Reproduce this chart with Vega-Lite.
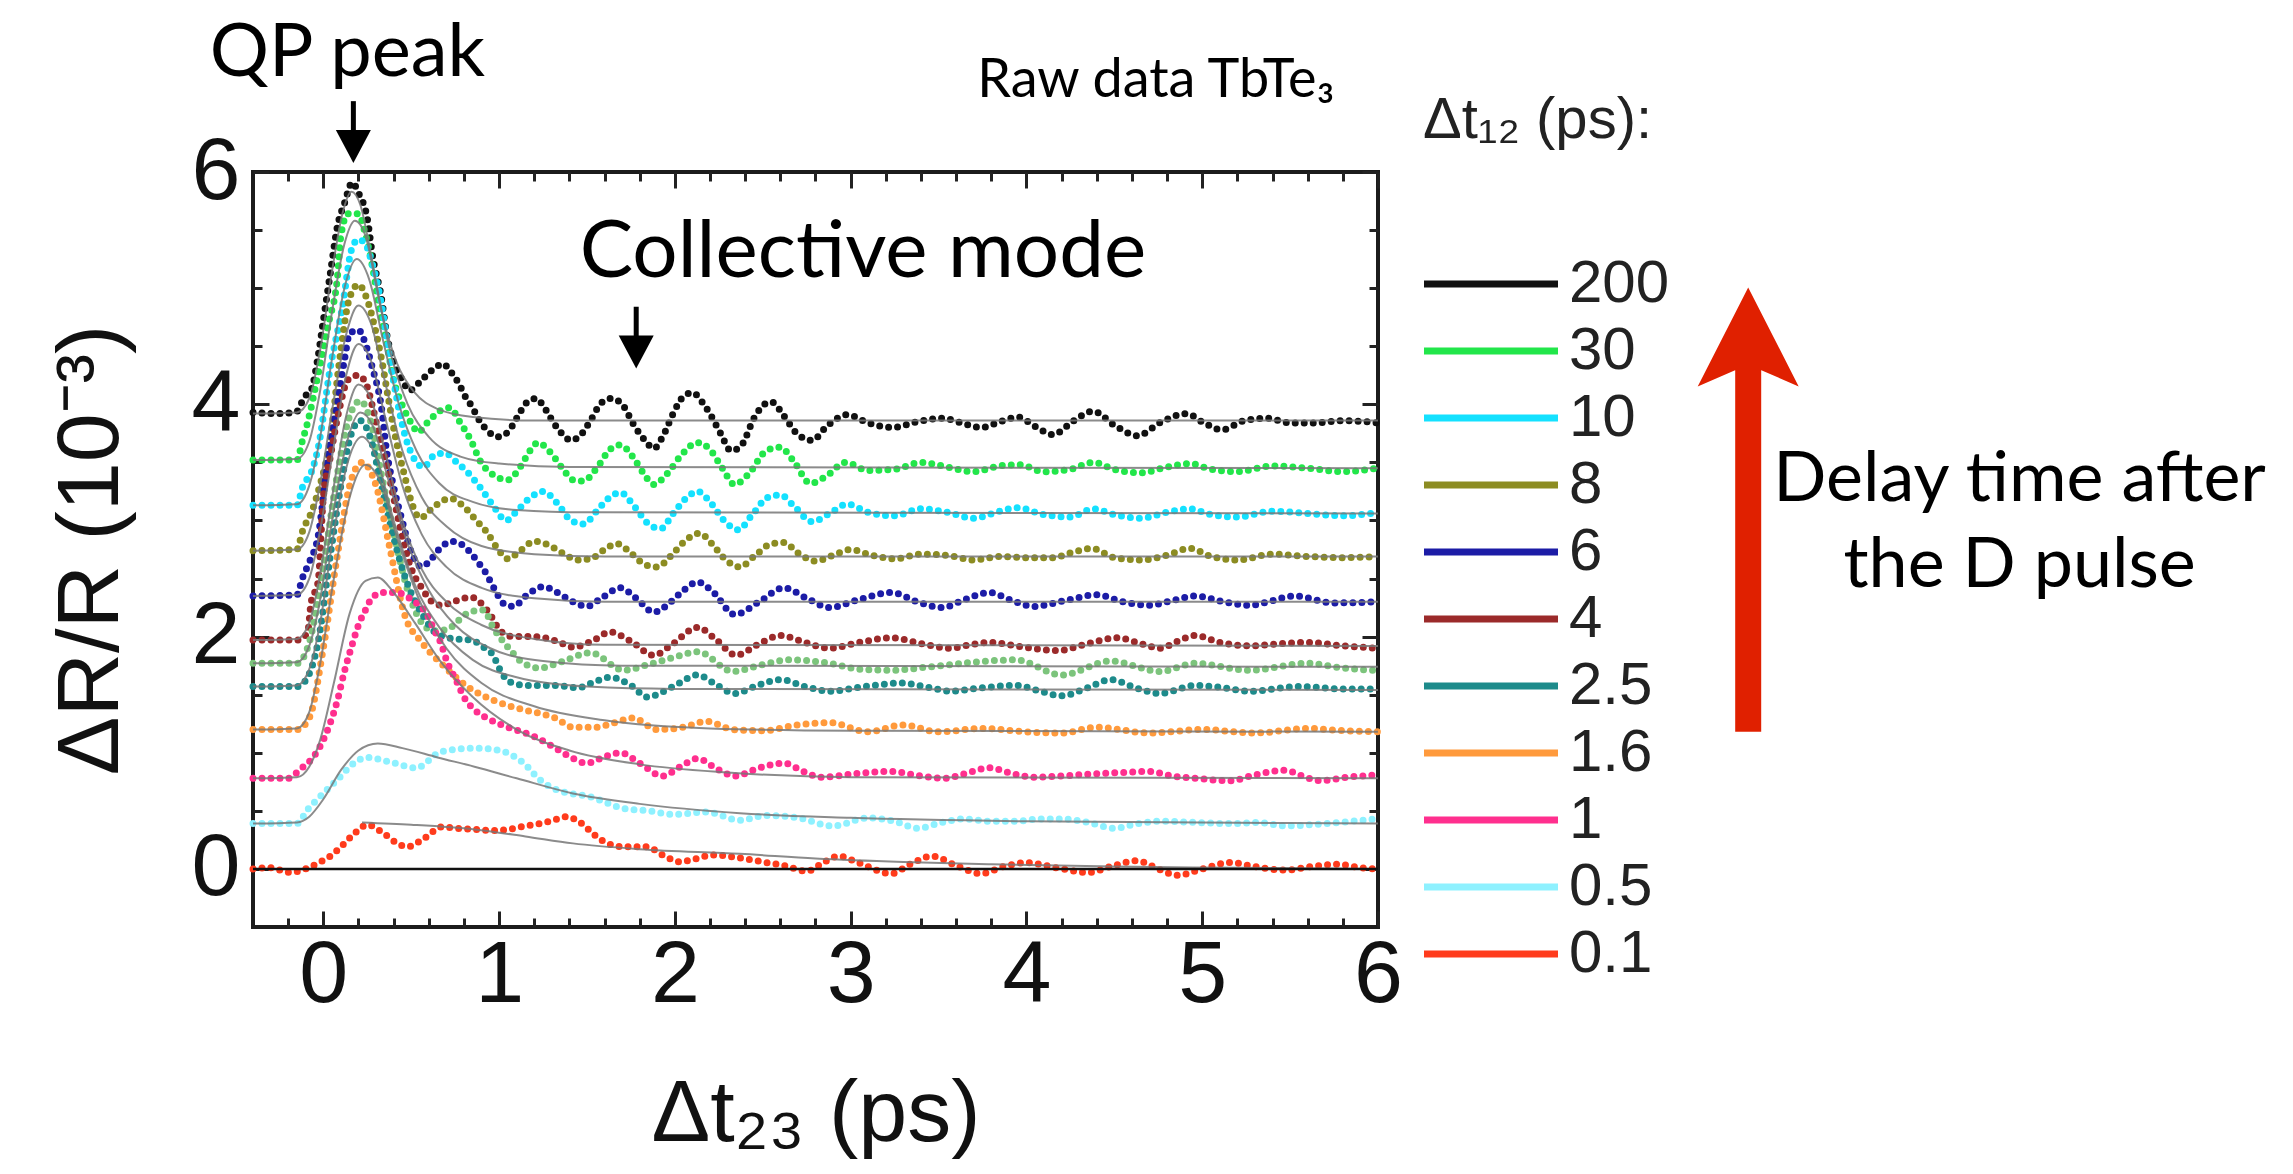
{
"$schema":"https://vega.github.io/schema/vega-lite/v6.json",
"width":1125,"height":755,
"autosize":{"type":"none"},
"padding":{"left":253,"top":172,"right":915,"bottom":247},
"background":"white",
"config":{
 "view":{"stroke":"#1c1c1c","strokeWidth":4},
 "axis":{"labelFont":"Liberation Sans","labelFontSize":88,"labelColor":"#111","titleFont":"Liberation Sans","titleFontSize":88,"titleFontWeight":"normal","titleColor":"#111","tickColor":"#222","tickWidth":3,"domain":false,"grid":false}
},
"datasets":{
"obs":[
{"k":"200","t":-0.4,"v":3.93},{"k":"200","t":-0.25,"v":3.92},{"k":"200","t":-0.15,"v":3.94},{"k":"200","t":-0.11,"v":4.06},{"k":"200","t":-0.07,"v":4.12},{"k":"200","t":-0.03,"v":4.41},{"k":"200","t":0,"v":4.72},{"k":"200","t":0.04,"v":5.13},{"k":"200","t":0.08,"v":5.53},{"k":"200","t":0.12,"v":5.73},{"k":"200","t":0.165,"v":5.91},{"k":"200","t":0.2,"v":5.82},{"k":"200","t":0.25,"v":5.6},{"k":"200","t":0.28,"v":5.28},{"k":"200","t":0.33,"v":4.92},{"k":"200","t":0.36,"v":4.61},{"k":"200","t":0.4,"v":4.36},{"k":"200","t":0.45,"v":4.21},{"k":"200","t":0.49,"v":4.12},{"k":"200","t":0.56,"v":4.21},{"k":"200","t":0.64,"v":4.32},{"k":"200","t":0.68,"v":4.35},{"k":"200","t":0.72,"v":4.29},{"k":"200","t":0.77,"v":4.18},{"k":"200","t":0.81,"v":4.06},{"k":"200","t":0.85,"v":3.97},{"k":"200","t":0.88,"v":3.88},{"k":"200","t":0.93,"v":3.78},{"k":"200","t":0.99,"v":3.72},{"k":"200","t":1.05,"v":3.76},{"k":"200","t":1.1,"v":3.88},{"k":"200","t":1.16,"v":4.02},{"k":"200","t":1.21,"v":4.05},{"k":"200","t":1.25,"v":3.99},{"k":"200","t":1.29,"v":3.89},{"k":"200","t":1.35,"v":3.76},{"k":"200","t":1.41,"v":3.69},{"k":"200","t":1.46,"v":3.73},{"k":"200","t":1.52,"v":3.86},{"k":"200","t":1.58,"v":4.01},{"k":"200","t":1.64,"v":4.05},{"k":"200","t":1.71,"v":3.98},{"k":"200","t":1.76,"v":3.84},{"k":"200","t":1.83,"v":3.69},{"k":"200","t":1.88,"v":3.62},{"k":"200","t":1.93,"v":3.72},{"k":"200","t":1.99,"v":3.92},{"k":"200","t":2.05,"v":4.07},{"k":"200","t":2.1,"v":4.1},{"k":"200","t":2.16,"v":4.01},{"k":"200","t":2.21,"v":3.89},{"k":"200","t":2.26,"v":3.75},{"k":"200","t":2.32,"v":3.6},{"k":"200","t":2.38,"v":3.65},{"k":"200","t":2.45,"v":3.88},{"k":"200","t":2.51,"v":4.0},{"k":"200","t":2.55,"v":4.02},{"k":"200","t":2.62,"v":3.9},{"k":"200","t":2.7,"v":3.74},{"k":"200","t":2.78,"v":3.69},{"k":"200","t":2.87,"v":3.82},{"k":"200","t":2.98,"v":3.91},{"k":"200","t":3.1,"v":3.84},{"k":"200","t":3.24,"v":3.8},{"k":"200","t":3.38,"v":3.85},{"k":"200","t":3.52,"v":3.88},{"k":"200","t":3.63,"v":3.84},{"k":"200","t":3.74,"v":3.8},{"k":"200","t":3.85,"v":3.85},{"k":"200","t":3.95,"v":3.89},{"k":"200","t":4.05,"v":3.81},{"k":"200","t":4.15,"v":3.74},{"k":"200","t":4.27,"v":3.86},{"k":"200","t":4.38,"v":3.94},{"k":"200","t":4.5,"v":3.82},{"k":"200","t":4.63,"v":3.73},{"k":"200","t":4.77,"v":3.85},{"k":"200","t":4.91,"v":3.92},{"k":"200","t":5.01,"v":3.84},{"k":"200","t":5.11,"v":3.78},{"k":"200","t":5.24,"v":3.86},{"k":"200","t":5.37,"v":3.88},{"k":"200","t":5.5,"v":3.84},{"k":"200","t":5.65,"v":3.84},{"k":"200","t":5.8,"v":3.86},{"k":"200","t":6.0,"v":3.84},
{"k":"30","t":-0.4,"v":3.52},{"k":"30","t":-0.15,"v":3.52},{"k":"30","t":-0.12,"v":3.68},{"k":"30","t":-0.09,"v":3.84},{"k":"30","t":-0.02,"v":4.33},{"k":"30","t":0.03,"v":4.7},{"k":"30","t":0.08,"v":5.09},{"k":"30","t":0.1,"v":5.45},{"k":"30","t":0.14,"v":5.64},{"k":"30","t":0.2,"v":5.64},{"k":"30","t":0.24,"v":5.46},{"k":"30","t":0.28,"v":5.18},{"k":"30","t":0.32,"v":4.82},{"k":"30","t":0.36,"v":4.53},{"k":"30","t":0.4,"v":4.21},{"k":"30","t":0.45,"v":3.99},{"k":"30","t":0.5,"v":3.84},{"k":"30","t":0.54,"v":3.76},{"k":"30","t":0.59,"v":3.84},{"k":"30","t":0.67,"v":3.95},{"k":"30","t":0.72,"v":3.97},{"k":"30","t":0.78,"v":3.84},{"k":"30","t":0.84,"v":3.69},{"k":"30","t":0.89,"v":3.52},{"k":"30","t":0.97,"v":3.39},{"k":"30","t":1.05,"v":3.35},{"k":"30","t":1.12,"v":3.46},{"k":"30","t":1.18,"v":3.61},{"k":"30","t":1.22,"v":3.67},{"k":"30","t":1.29,"v":3.59},{"k":"30","t":1.36,"v":3.45},{"k":"30","t":1.42,"v":3.35},{"k":"30","t":1.48,"v":3.34},{"k":"30","t":1.56,"v":3.46},{"k":"30","t":1.63,"v":3.61},{"k":"30","t":1.69,"v":3.65},{"k":"30","t":1.76,"v":3.55},{"k":"30","t":1.82,"v":3.41},{"k":"30","t":1.88,"v":3.31},{"k":"30","t":1.96,"v":3.41},{"k":"30","t":2.03,"v":3.55},{"k":"30","t":2.13,"v":3.67},{"k":"30","t":2.2,"v":3.61},{"k":"30","t":2.27,"v":3.45},{"k":"30","t":2.34,"v":3.31},{"k":"30","t":2.42,"v":3.4},{"k":"30","t":2.52,"v":3.6},{"k":"30","t":2.6,"v":3.63},{"k":"30","t":2.68,"v":3.5},{"k":"30","t":2.77,"v":3.32},{"k":"30","t":2.86,"v":3.38},{"k":"30","t":2.97,"v":3.5},{"k":"30","t":3.1,"v":3.43},{"k":"30","t":3.25,"v":3.44},{"k":"30","t":3.4,"v":3.5},{"k":"30","t":3.55,"v":3.46},{"k":"30","t":3.7,"v":3.42},{"k":"30","t":3.85,"v":3.47},{"k":"30","t":3.96,"v":3.48},{"k":"30","t":4.1,"v":3.42},{"k":"30","t":4.25,"v":3.44},{"k":"30","t":4.38,"v":3.5},{"k":"30","t":4.5,"v":3.44},{"k":"30","t":4.65,"v":3.41},{"k":"30","t":4.8,"v":3.46},{"k":"30","t":4.93,"v":3.49},{"k":"30","t":5.05,"v":3.44},{"k":"30","t":5.2,"v":3.42},{"k":"30","t":5.4,"v":3.47},{"k":"30","t":5.6,"v":3.45},{"k":"30","t":5.8,"v":3.42},{"k":"30","t":6.0,"v":3.45},
{"k":"10","t":-0.4,"v":3.13},{"k":"10","t":-0.15,"v":3.13},{"k":"10","t":-0.12,"v":3.28},{"k":"10","t":-0.06,"v":3.45},{"k":"10","t":-0.03,"v":3.62},{"k":"10","t":0.04,"v":4.32},{"k":"10","t":0.11,"v":4.85},{"k":"10","t":0.16,"v":5.33},{"k":"10","t":0.2,"v":5.42},{"k":"10","t":0.24,"v":5.38},{"k":"10","t":0.28,"v":5.2},{"k":"10","t":0.32,"v":4.95},{"k":"10","t":0.36,"v":4.58},{"k":"10","t":0.4,"v":4.2},{"k":"10","t":0.46,"v":3.76},{"k":"10","t":0.51,"v":3.55},{"k":"10","t":0.57,"v":3.46},{"k":"10","t":0.63,"v":3.56},{"k":"10","t":0.69,"v":3.58},{"k":"10","t":0.76,"v":3.5},{"k":"10","t":0.83,"v":3.4},{"k":"10","t":0.9,"v":3.27},{"k":"10","t":0.97,"v":3.12},{"k":"10","t":1.04,"v":3.0},{"k":"10","t":1.1,"v":3.08},{"k":"10","t":1.18,"v":3.2},{"k":"10","t":1.25,"v":3.25},{"k":"10","t":1.33,"v":3.15},{"k":"10","t":1.41,"v":3.0},{"k":"10","t":1.48,"v":2.97},{"k":"10","t":1.56,"v":3.09},{"k":"10","t":1.63,"v":3.2},{"k":"10","t":1.69,"v":3.24},{"k":"10","t":1.77,"v":3.12},{"k":"10","t":1.85,"v":2.97},{"k":"10","t":1.92,"v":2.93},{"k":"10","t":1.99,"v":3.06},{"k":"10","t":2.07,"v":3.2},{"k":"10","t":2.13,"v":3.25},{"k":"10","t":2.2,"v":3.16},{"k":"10","t":2.28,"v":3.0},{"k":"10","t":2.36,"v":2.92},{"k":"10","t":2.44,"v":3.05},{"k":"10","t":2.53,"v":3.2},{"k":"10","t":2.6,"v":3.22},{"k":"10","t":2.68,"v":3.12},{"k":"10","t":2.78,"v":2.99},{"k":"10","t":2.88,"v":3.06},{"k":"10","t":2.98,"v":3.14},{"k":"10","t":3.1,"v":3.07},{"k":"10","t":3.25,"v":3.04},{"k":"10","t":3.4,"v":3.1},{"k":"10","t":3.55,"v":3.07},{"k":"10","t":3.7,"v":3.02},{"k":"10","t":3.85,"v":3.08},{"k":"10","t":3.95,"v":3.11},{"k":"10","t":4.1,"v":3.05},{"k":"10","t":4.25,"v":3.03},{"k":"10","t":4.38,"v":3.1},{"k":"10","t":4.5,"v":3.05},{"k":"10","t":4.65,"v":3.02},{"k":"10","t":4.8,"v":3.07},{"k":"10","t":4.93,"v":3.1},{"k":"10","t":5.05,"v":3.05},{"k":"10","t":5.2,"v":3.03},{"k":"10","t":5.4,"v":3.08},{"k":"10","t":5.6,"v":3.06},{"k":"10","t":5.8,"v":3.04},{"k":"10","t":6.0,"v":3.07},
{"k":"8","t":-0.4,"v":2.74},{"k":"8","t":-0.15,"v":2.75},{"k":"8","t":-0.12,"v":2.9},{"k":"8","t":-0.06,"v":3.1},{"k":"8","t":-0.02,"v":3.3},{"k":"8","t":0.04,"v":3.7},{"k":"8","t":0.09,"v":4.35},{"k":"8","t":0.15,"v":4.92},{"k":"8","t":0.2,"v":5.03},{"k":"8","t":0.25,"v":4.9},{"k":"8","t":0.29,"v":4.68},{"k":"8","t":0.33,"v":4.4},{"k":"8","t":0.37,"v":4.05},{"k":"8","t":0.41,"v":3.72},{"k":"8","t":0.46,"v":3.4},{"k":"8","t":0.51,"v":3.12},{"k":"8","t":0.55,"v":3.02},{"k":"8","t":0.63,"v":3.12},{"k":"8","t":0.72,"v":3.19},{"k":"8","t":0.8,"v":3.12},{"k":"8","t":0.87,"v":3.0},{"k":"8","t":0.93,"v":2.9},{"k":"8","t":0.99,"v":2.76},{"k":"8","t":1.05,"v":2.67},{"k":"8","t":1.12,"v":2.74},{"k":"8","t":1.2,"v":2.82},{"k":"8","t":1.28,"v":2.79},{"k":"8","t":1.36,"v":2.72},{"k":"8","t":1.45,"v":2.66},{"k":"8","t":1.52,"v":2.67},{"k":"8","t":1.6,"v":2.75},{"k":"8","t":1.67,"v":2.8},{"k":"8","t":1.75,"v":2.72},{"k":"8","t":1.83,"v":2.62},{"k":"8","t":1.9,"v":2.6},{"k":"8","t":1.98,"v":2.7},{"k":"8","t":2.07,"v":2.84},{"k":"8","t":2.14,"v":2.89},{"k":"8","t":2.21,"v":2.8},{"k":"8","t":2.29,"v":2.66},{"k":"8","t":2.37,"v":2.6},{"k":"8","t":2.45,"v":2.69},{"k":"8","t":2.55,"v":2.8},{"k":"8","t":2.62,"v":2.81},{"k":"8","t":2.7,"v":2.72},{"k":"8","t":2.8,"v":2.65},{"k":"8","t":2.9,"v":2.7},{"k":"8","t":3.0,"v":2.75},{"k":"8","t":3.12,"v":2.7},{"k":"8","t":3.25,"v":2.67},{"k":"8","t":3.4,"v":2.71},{"k":"8","t":3.55,"v":2.7},{"k":"8","t":3.7,"v":2.66},{"k":"8","t":3.85,"v":2.69},{"k":"8","t":4.0,"v":2.68},{"k":"8","t":4.15,"v":2.68},{"k":"8","t":4.25,"v":2.72},{"k":"8","t":4.37,"v":2.76},{"k":"8","t":4.5,"v":2.68},{"k":"8","t":4.65,"v":2.66},{"k":"8","t":4.8,"v":2.7},{"k":"8","t":4.93,"v":2.76},{"k":"8","t":5.05,"v":2.69},{"k":"8","t":5.2,"v":2.66},{"k":"8","t":5.4,"v":2.71},{"k":"8","t":5.6,"v":2.69},{"k":"8","t":5.8,"v":2.68},{"k":"8","t":6.0,"v":2.69},
{"k":"6","t":-0.4,"v":2.35},{"k":"6","t":-0.15,"v":2.36},{"k":"6","t":-0.12,"v":2.5},{"k":"6","t":-0.08,"v":2.64},{"k":"6","t":-0.03,"v":2.86},{"k":"6","t":0.03,"v":3.59},{"k":"6","t":0.08,"v":4.01},{"k":"6","t":0.12,"v":4.38},{"k":"6","t":0.15,"v":4.61},{"k":"6","t":0.2,"v":4.64},{"k":"6","t":0.24,"v":4.52},{"k":"6","t":0.28,"v":4.31},{"k":"6","t":0.33,"v":3.98},{"k":"6","t":0.36,"v":3.6},{"k":"6","t":0.4,"v":3.29},{"k":"6","t":0.45,"v":2.99},{"k":"6","t":0.49,"v":2.77},{"k":"6","t":0.52,"v":2.66},{"k":"6","t":0.56,"v":2.6},{"k":"6","t":0.61,"v":2.66},{"k":"6","t":0.67,"v":2.77},{"k":"6","t":0.73,"v":2.82},{"k":"6","t":0.79,"v":2.79},{"k":"6","t":0.84,"v":2.72},{"k":"6","t":0.88,"v":2.64},{"k":"6","t":0.92,"v":2.56},{"k":"6","t":0.97,"v":2.42},{"k":"6","t":1.03,"v":2.28},{"k":"6","t":1.08,"v":2.26},{"k":"6","t":1.16,"v":2.36},{"k":"6","t":1.25,"v":2.43},{"k":"6","t":1.33,"v":2.38},{"k":"6","t":1.42,"v":2.3},{"k":"6","t":1.5,"v":2.26},{"k":"6","t":1.59,"v":2.34},{"k":"6","t":1.69,"v":2.42},{"k":"6","t":1.78,"v":2.33},{"k":"6","t":1.88,"v":2.21},{"k":"6","t":1.97,"v":2.29},{"k":"6","t":2.05,"v":2.4},{"k":"6","t":2.13,"v":2.47},{"k":"6","t":2.22,"v":2.38},{"k":"6","t":2.34,"v":2.19},{"k":"6","t":2.48,"v":2.3},{"k":"6","t":2.62,"v":2.42},{"k":"6","t":2.75,"v":2.33},{"k":"6","t":2.88,"v":2.25},{"k":"6","t":3.05,"v":2.32},{"k":"6","t":3.23,"v":2.38},{"k":"6","t":3.38,"v":2.3},{"k":"6","t":3.52,"v":2.25},{"k":"6","t":3.65,"v":2.32},{"k":"6","t":3.79,"v":2.38},{"k":"6","t":3.92,"v":2.31},{"k":"6","t":4.04,"v":2.26},{"k":"6","t":4.22,"v":2.31},{"k":"6","t":4.4,"v":2.36},{"k":"6","t":4.55,"v":2.3},{"k":"6","t":4.7,"v":2.27},{"k":"6","t":4.83,"v":2.31},{"k":"6","t":4.96,"v":2.35},{"k":"6","t":5.12,"v":2.3},{"k":"6","t":5.27,"v":2.27},{"k":"6","t":5.4,"v":2.31},{"k":"6","t":5.52,"v":2.35},{"k":"6","t":5.75,"v":2.29},{"k":"6","t":6.0,"v":2.3},
{"k":"4","t":-0.4,"v":1.97},{"k":"4","t":-0.15,"v":1.97},{"k":"4","t":-0.09,"v":2.03},{"k":"4","t":-0.07,"v":2.29},{"k":"4","t":-0.03,"v":2.47},{"k":"4","t":0.0,"v":3.2},{"k":"4","t":0.04,"v":3.55},{"k":"4","t":0.09,"v":3.95},{"k":"4","t":0.14,"v":4.21},{"k":"4","t":0.2,"v":4.25},{"k":"4","t":0.25,"v":4.15},{"k":"4","t":0.28,"v":3.98},{"k":"4","t":0.32,"v":3.72},{"k":"4","t":0.36,"v":3.48},{"k":"4","t":0.4,"v":3.2},{"k":"4","t":0.45,"v":2.85},{"k":"4","t":0.51,"v":2.55},{"k":"4","t":0.56,"v":2.42},{"k":"4","t":0.61,"v":2.31},{"k":"4","t":0.67,"v":2.27},{"k":"4","t":0.74,"v":2.3},{"k":"4","t":0.84,"v":2.34},{"k":"4","t":0.88,"v":2.31},{"k":"4","t":0.93,"v":2.23},{"k":"4","t":0.97,"v":2.14},{"k":"4","t":1.0,"v":2.06},{"k":"4","t":1.08,"v":2.0},{"k":"4","t":1.2,"v":2.0},{"k":"4","t":1.33,"v":1.96},{"k":"4","t":1.42,"v":1.91},{"k":"4","t":1.54,"v":1.97},{"k":"4","t":1.63,"v":2.04},{"k":"4","t":1.75,"v":1.96},{"k":"4","t":1.88,"v":1.84},{"k":"4","t":1.99,"v":1.94},{"k":"4","t":2.13,"v":2.08},{"k":"4","t":2.23,"v":1.98},{"k":"4","t":2.35,"v":1.84},{"k":"4","t":2.47,"v":1.93},{"k":"4","t":2.6,"v":2.01},{"k":"4","t":2.74,"v":1.95},{"k":"4","t":2.88,"v":1.9},{"k":"4","t":3.05,"v":1.95},{"k":"4","t":3.23,"v":1.99},{"k":"4","t":3.4,"v":1.94},{"k":"4","t":3.57,"v":1.9},{"k":"4","t":3.68,"v":1.93},{"k":"4","t":3.79,"v":1.95},{"k":"4","t":3.98,"v":1.91},{"k":"4","t":4.18,"v":1.88},{"k":"4","t":4.35,"v":1.94},{"k":"4","t":4.52,"v":1.99},{"k":"4","t":4.65,"v":1.94},{"k":"4","t":4.76,"v":1.9},{"k":"4","t":4.86,"v":1.96},{"k":"4","t":4.96,"v":2.01},{"k":"4","t":5.1,"v":1.95},{"k":"4","t":5.27,"v":1.92},{"k":"4","t":5.45,"v":1.94},{"k":"4","t":5.6,"v":1.95},{"k":"4","t":5.8,"v":1.92},{"k":"4","t":6.0,"v":1.9},
{"k":"x","t":-0.4,"v":1.77},{"k":"x","t":-0.15,"v":1.77},{"k":"x","t":-0.08,"v":1.95},{"k":"x","t":0.0,"v":2.6},{"k":"x","t":0.08,"v":3.4},{"k":"x","t":0.15,"v":3.9},{"k":"x","t":0.21,"v":4.03},{"k":"x","t":0.27,"v":3.85},{"k":"x","t":0.33,"v":3.4},{"k":"x","t":0.4,"v":2.9},{"k":"x","t":0.48,"v":2.4},{"k":"x","t":0.56,"v":2.12},{"k":"x","t":0.63,"v":2.05},{"k":"x","t":0.7,"v":2.06},{"k":"x","t":0.82,"v":2.2},{"k":"x","t":0.91,"v":2.23},{"k":"x","t":0.97,"v":2.07},{"k":"x","t":1.05,"v":1.91},{"k":"x","t":1.14,"v":1.77},{"k":"x","t":1.23,"v":1.73},{"k":"x","t":1.35,"v":1.78},{"k":"x","t":1.52,"v":1.86},{"k":"x","t":1.71,"v":1.71},{"k":"x","t":1.85,"v":1.76},{"k":"x","t":1.99,"v":1.82},{"k":"x","t":2.13,"v":1.87},{"k":"x","t":2.33,"v":1.7},{"k":"x","t":2.5,"v":1.76},{"k":"x","t":2.65,"v":1.8},{"k":"x","t":2.88,"v":1.77},{"k":"x","t":3.05,"v":1.72},{"k":"x","t":3.23,"v":1.71},{"k":"x","t":3.45,"v":1.74},{"k":"x","t":3.7,"v":1.78},{"k":"x","t":3.94,"v":1.8},{"k":"x","t":4.2,"v":1.67},{"k":"x","t":4.48,"v":1.79},{"k":"x","t":4.76,"v":1.7},{"k":"x","t":4.96,"v":1.77},{"k":"x","t":5.27,"v":1.71},{"k":"x","t":5.6,"v":1.77},{"k":"x","t":5.8,"v":1.73},{"k":"x","t":5.98,"v":1.71},
{"k":"2.5","t":-0.4,"v":1.57},{"k":"2.5","t":-0.15,"v":1.57},{"k":"2.5","t":-0.09,"v":1.65},{"k":"2.5","t":-0.03,"v":1.95},{"k":"2.5","t":0.04,"v":2.7},{"k":"2.5","t":0.1,"v":3.3},{"k":"2.5","t":0.16,"v":3.75},{"k":"2.5","t":0.21,"v":3.86},{"k":"2.5","t":0.27,"v":3.7},{"k":"2.5","t":0.33,"v":3.3},{"k":"2.5","t":0.4,"v":2.85},{"k":"2.5","t":0.48,"v":2.45},{"k":"2.5","t":0.56,"v":2.2},{"k":"2.5","t":0.65,"v":2.02},{"k":"2.5","t":0.75,"v":1.98},{"k":"2.5","t":0.84,"v":1.97},{"k":"2.5","t":0.91,"v":1.91},{"k":"2.5","t":0.97,"v":1.83},{"k":"2.5","t":1.0,"v":1.73},{"k":"2.5","t":1.06,"v":1.61},{"k":"2.5","t":1.16,"v":1.58},{"k":"2.5","t":1.31,"v":1.58},{"k":"2.5","t":1.45,"v":1.56},{"k":"2.5","t":1.54,"v":1.61},{"k":"2.5","t":1.63,"v":1.65},{"k":"2.5","t":1.76,"v":1.57},{"k":"2.5","t":1.84,"v":1.48},{"k":"2.5","t":1.99,"v":1.57},{"k":"2.5","t":2.13,"v":1.67},{"k":"2.5","t":2.22,"v":1.6},{"k":"2.5","t":2.34,"v":1.51},{"k":"2.5","t":2.47,"v":1.58},{"k":"2.5","t":2.6,"v":1.63},{"k":"2.5","t":2.74,"v":1.57},{"k":"2.5","t":2.88,"v":1.53},{"k":"2.5","t":3.08,"v":1.57},{"k":"2.5","t":3.29,"v":1.6},{"k":"2.5","t":3.45,"v":1.56},{"k":"2.5","t":3.57,"v":1.53},{"k":"2.5","t":3.75,"v":1.56},{"k":"2.5","t":3.94,"v":1.58},{"k":"2.5","t":4.08,"v":1.53},{"k":"2.5","t":4.2,"v":1.49},{"k":"2.5","t":4.35,"v":1.56},{"k":"2.5","t":4.48,"v":1.63},{"k":"2.5","t":4.62,"v":1.56},{"k":"2.5","t":4.76,"v":1.51},{"k":"2.5","t":4.96,"v":1.58},{"k":"2.5","t":5.12,"v":1.56},{"k":"2.5","t":5.27,"v":1.53},{"k":"2.5","t":5.55,"v":1.57},{"k":"2.5","t":5.8,"v":1.55},{"k":"2.5","t":5.98,"v":1.55},
{"k":"1.6","t":-0.4,"v":1.2},{"k":"1.6","t":-0.15,"v":1.2},{"k":"1.6","t":-0.08,"v":1.3},{"k":"1.6","t":0.0,"v":1.9},{"k":"1.6","t":0.08,"v":2.7},{"k":"1.6","t":0.15,"v":3.3},{"k":"1.6","t":0.22,"v":3.5},{"k":"1.6","t":0.3,"v":3.3},{"k":"1.6","t":0.38,"v":2.75},{"k":"1.6","t":0.46,"v":2.2},{"k":"1.6","t":0.56,"v":1.95},{"k":"1.6","t":0.67,"v":1.77},{"k":"1.6","t":0.82,"v":1.57},{"k":"1.6","t":0.97,"v":1.45},{"k":"1.6","t":1.14,"v":1.37},{"k":"1.6","t":1.23,"v":1.34},{"k":"1.6","t":1.32,"v":1.3},{"k":"1.6","t":1.42,"v":1.22},{"k":"1.6","t":1.55,"v":1.22},{"k":"1.6","t":1.66,"v":1.26},{"k":"1.6","t":1.76,"v":1.3},{"k":"1.6","t":1.9,"v":1.2},{"k":"1.6","t":2.05,"v":1.22},{"k":"1.6","t":2.18,"v":1.27},{"k":"1.6","t":2.33,"v":1.2},{"k":"1.6","t":2.5,"v":1.19},{"k":"1.6","t":2.7,"v":1.24},{"k":"1.6","t":2.88,"v":1.26},{"k":"1.6","t":3.1,"v":1.18},{"k":"1.6","t":3.3,"v":1.24},{"k":"1.6","t":3.5,"v":1.18},{"k":"1.6","t":3.75,"v":1.21},{"k":"1.6","t":4.0,"v":1.18},{"k":"1.6","t":4.2,"v":1.17},{"k":"1.6","t":4.4,"v":1.22},{"k":"1.6","t":4.7,"v":1.17},{"k":"1.6","t":5.0,"v":1.2},{"k":"1.6","t":5.3,"v":1.17},{"k":"1.6","t":5.6,"v":1.21},{"k":"1.6","t":5.8,"v":1.19},{"k":"1.6","t":6.0,"v":1.18},
{"k":"1","t":-0.4,"v":0.78},{"k":"1","t":-0.2,"v":0.78},{"k":"1","t":-0.13,"v":0.86},{"k":"1","t":-0.07,"v":0.94},{"k":"1","t":-0.04,"v":1.0},{"k":"1","t":0.04,"v":1.26},{"k":"1","t":0.08,"v":1.45},{"k":"1","t":0.12,"v":1.7},{"k":"1","t":0.16,"v":1.91},{"k":"1","t":0.2,"v":2.1},{"k":"1","t":0.24,"v":2.23},{"k":"1","t":0.28,"v":2.34},{"k":"1","t":0.34,"v":2.38},{"k":"1","t":0.42,"v":2.38},{"k":"1","t":0.48,"v":2.34},{"k":"1","t":0.53,"v":2.29},{"k":"1","t":0.59,"v":2.19},{"k":"1","t":0.63,"v":2.06},{"k":"1","t":0.67,"v":1.94},{"k":"1","t":0.7,"v":1.8},{"k":"1","t":0.76,"v":1.61},{"k":"1","t":0.8,"v":1.48},{"k":"1","t":0.86,"v":1.37},{"k":"1","t":0.93,"v":1.3},{"k":"1","t":1.05,"v":1.22},{"k":"1","t":1.2,"v":1.14},{"k":"1","t":1.31,"v":1.05},{"k":"1","t":1.41,"v":0.96},{"k":"1","t":1.5,"v":0.91},{"k":"1","t":1.59,"v":0.96},{"k":"1","t":1.69,"v":1.0},{"k":"1","t":1.8,"v":0.91},{"k":"1","t":1.93,"v":0.8},{"k":"1","t":2.03,"v":0.88},{"k":"1","t":2.13,"v":0.95},{"k":"1","t":2.24,"v":0.86},{"k":"1","t":2.34,"v":0.8},{"k":"1","t":2.48,"v":0.87},{"k":"1","t":2.62,"v":0.91},{"k":"1","t":2.73,"v":0.84},{"k":"1","t":2.83,"v":0.79},{"k":"1","t":3.03,"v":0.82},{"k":"1","t":3.23,"v":0.84},{"k":"1","t":3.4,"v":0.8},{"k":"1","t":3.54,"v":0.78},{"k":"1","t":3.65,"v":0.82},{"k":"1","t":3.79,"v":0.87},{"k":"1","t":3.92,"v":0.82},{"k":"1","t":4.04,"v":0.79},{"k":"1","t":4.2,"v":0.8},{"k":"1","t":4.4,"v":0.82},{"k":"1","t":4.55,"v":0.83},{"k":"1","t":4.7,"v":0.84},{"k":"1","t":4.83,"v":0.8},{"k":"1","t":4.96,"v":0.78},{"k":"1","t":5.16,"v":0.76},{"k":"1","t":5.3,"v":0.81},{"k":"1","t":5.47,"v":0.85},{"k":"1","t":5.57,"v":0.8},{"k":"1","t":5.67,"v":0.76},{"k":"1","t":5.83,"v":0.79},{"k":"1","t":6.0,"v":0.81},
{"k":"0.5","t":-0.4,"v":0.39},{"k":"0.5","t":-0.15,"v":0.39},{"k":"0.5","t":-0.09,"v":0.51},{"k":"0.5","t":-0.02,"v":0.62},{"k":"0.5","t":0.04,"v":0.71},{"k":"0.5","t":0.1,"v":0.8},{"k":"0.5","t":0.15,"v":0.88},{"k":"0.5","t":0.25,"v":0.96},{"k":"0.5","t":0.38,"v":0.92},{"k":"0.5","t":0.53,"v":0.87},{"k":"0.5","t":0.67,"v":1.01},{"k":"0.5","t":0.86,"v":1.04},{"k":"0.5","t":1.0,"v":1.02},{"k":"0.5","t":1.14,"v":0.91},{"k":"0.5","t":1.23,"v":0.77},{"k":"0.5","t":1.33,"v":0.68},{"k":"0.5","t":1.52,"v":0.62},{"k":"0.5","t":1.71,"v":0.52},{"k":"0.5","t":1.85,"v":0.5},{"k":"0.5","t":1.99,"v":0.47},{"k":"0.5","t":2.18,"v":0.49},{"k":"0.5","t":2.37,"v":0.42},{"k":"0.5","t":2.52,"v":0.46},{"k":"0.5","t":2.7,"v":0.44},{"k":"0.5","t":2.9,"v":0.37},{"k":"0.5","t":3.1,"v":0.44},{"k":"0.5","t":3.25,"v":0.41},{"k":"0.5","t":3.38,"v":0.35},{"k":"0.5","t":3.52,"v":0.4},{"k":"0.5","t":3.64,"v":0.43},{"k":"0.5","t":3.8,"v":0.41},{"k":"0.5","t":3.94,"v":0.41},{"k":"0.5","t":4.07,"v":0.43},{"k":"0.5","t":4.2,"v":0.43},{"k":"0.5","t":4.35,"v":0.4},{"k":"0.5","t":4.5,"v":0.35},{"k":"0.5","t":4.63,"v":0.39},{"k":"0.5","t":4.76,"v":0.41},{"k":"0.5","t":4.96,"v":0.4},{"k":"0.5","t":5.16,"v":0.39},{"k":"0.5","t":5.32,"v":0.4},{"k":"0.5","t":5.47,"v":0.37},{"k":"0.5","t":5.7,"v":0.39},{"k":"0.5","t":5.98,"v":0.43},
{"k":"0.1","t":-0.4,"v":0.0},{"k":"0.1","t":-0.3,"v":0.01},{"k":"0.1","t":-0.19,"v":-0.03},{"k":"0.1","t":-0.1,"v":0.0},{"k":"0.1","t":-0.03,"v":0.05},{"k":"0.1","t":0.03,"v":0.1},{"k":"0.1","t":0.1,"v":0.19},{"k":"0.1","t":0.18,"v":0.31},{"k":"0.1","t":0.25,"v":0.38},{"k":"0.1","t":0.34,"v":0.31},{"k":"0.1","t":0.42,"v":0.22},{"k":"0.1","t":0.48,"v":0.19},{"k":"0.1","t":0.54,"v":0.23},{"k":"0.1","t":0.59,"v":0.28},{"k":"0.1","t":0.67,"v":0.36},{"k":"0.1","t":0.76,"v":0.35},{"k":"0.1","t":0.86,"v":0.34},{"k":"0.1","t":0.96,"v":0.33},{"k":"0.1","t":1.05,"v":0.34},{"k":"0.1","t":1.15,"v":0.37},{"k":"0.1","t":1.23,"v":0.39},{"k":"0.1","t":1.31,"v":0.42},{"k":"0.1","t":1.39,"v":0.45},{"k":"0.1","t":1.44,"v":0.42},{"k":"0.1","t":1.48,"v":0.38},{"k":"0.1","t":1.53,"v":0.31},{"k":"0.1","t":1.58,"v":0.25},{"k":"0.1","t":1.71,"v":0.19},{"k":"0.1","t":1.84,"v":0.19},{"k":"0.1","t":1.93,"v":0.12},{"k":"0.1","t":2.03,"v":0.06},{"k":"0.1","t":2.1,"v":0.08},{"k":"0.1","t":2.22,"v":0.12},{"k":"0.1","t":2.35,"v":0.1},{"k":"0.1","t":2.52,"v":0.055},{"k":"0.1","t":2.62,"v":0.03},{"k":"0.1","t":2.75,"v":-0.02},{"k":"0.1","t":2.85,"v":0.06},{"k":"0.1","t":2.93,"v":0.11},{"k":"0.1","t":3.05,"v":0.05},{"k":"0.1","t":3.23,"v":-0.04},{"k":"0.1","t":3.35,"v":0.05},{"k":"0.1","t":3.46,"v":0.11},{"k":"0.1","t":3.6,"v":0.03},{"k":"0.1","t":3.74,"v":-0.04},{"k":"0.1","t":3.87,"v":0.02},{"k":"0.1","t":4.0,"v":0.055},{"k":"0.1","t":4.17,"v":0.01},{"k":"0.1","t":4.35,"v":-0.03},{"k":"0.1","t":4.5,"v":0.03},{"k":"0.1","t":4.63,"v":0.07},{"k":"0.1","t":4.75,"v":0.0},{"k":"0.1","t":4.86,"v":-0.055},{"k":"0.1","t":5.0,"v":0.0},{"k":"0.1","t":5.16,"v":0.055},{"k":"0.1","t":5.3,"v":0.02},{"k":"0.1","t":5.47,"v":-0.01},{"k":"0.1","t":5.62,"v":0.02},{"k":"0.1","t":5.77,"v":0.04},{"k":"0.1","t":5.9,"v":0.01},{"k":"0.1","t":6.0,"v":0.0}
],
"fit":[
{"k":"200","t":-0.4,"v":3.92},{"k":"200","t":-0.15,"v":3.93},{"k":"200","t":-0.08,"v":4.05},{"k":"200","t":-0.02,"v":4.45},{"k":"200","t":0.05,"v":5.15},{"k":"200","t":0.11,"v":5.65},{"k":"200","t":0.16,"v":5.83},{"k":"200","t":0.21,"v":5.72},{"k":"200","t":0.27,"v":5.3},{"k":"200","t":0.34,"v":4.75},{"k":"200","t":0.42,"v":4.35},{"k":"200","t":0.52,"v":4.1},{"k":"200","t":0.65,"v":3.96},{"k":"200","t":0.85,"v":3.89},{"k":"200","t":1.2,"v":3.86},{"k":"200","t":6.0,"v":3.86},
{"k":"30","t":-0.4,"v":3.52},{"k":"30","t":-0.15,"v":3.53},{"k":"30","t":-0.08,"v":3.68},{"k":"30","t":-0.02,"v":4.1},{"k":"30","t":0.05,"v":4.8},{"k":"30","t":0.12,"v":5.38},{"k":"30","t":0.18,"v":5.58},{"k":"30","t":0.24,"v":5.45},{"k":"30","t":0.31,"v":4.95},{"k":"30","t":0.39,"v":4.4},{"k":"30","t":0.48,"v":4.0},{"k":"30","t":0.6,"v":3.72},{"k":"30","t":0.78,"v":3.55},{"k":"30","t":1.0,"v":3.49},{"k":"30","t":1.4,"v":3.46},{"k":"30","t":6.0,"v":3.45},
{"k":"10","t":-0.4,"v":3.13},{"k":"10","t":-0.15,"v":3.14},{"k":"10","t":-0.08,"v":3.3},{"k":"10","t":-0.02,"v":3.7},{"k":"10","t":0.05,"v":4.4},{"k":"10","t":0.12,"v":5.0},{"k":"10","t":0.19,"v":5.25},{"k":"10","t":0.26,"v":5.08},{"k":"10","t":0.34,"v":4.55},{"k":"10","t":0.43,"v":4.0},{"k":"10","t":0.53,"v":3.6},{"k":"10","t":0.66,"v":3.32},{"k":"10","t":0.85,"v":3.16},{"k":"10","t":1.1,"v":3.09},{"k":"10","t":1.5,"v":3.07},{"k":"10","t":6.0,"v":3.06},
{"k":"8","t":-0.4,"v":2.74},{"k":"8","t":-0.15,"v":2.75},{"k":"8","t":-0.08,"v":2.9},{"k":"8","t":-0.02,"v":3.3},{"k":"8","t":0.05,"v":3.95},{"k":"8","t":0.13,"v":4.6},{"k":"8","t":0.2,"v":4.85},{"k":"8","t":0.27,"v":4.7},{"k":"8","t":0.35,"v":4.2},{"k":"8","t":0.45,"v":3.6},{"k":"8","t":0.56,"v":3.2},{"k":"8","t":0.7,"v":2.95},{"k":"8","t":0.9,"v":2.78},{"k":"8","t":1.2,"v":2.71},{"k":"8","t":1.6,"v":2.69},{"k":"8","t":6.0,"v":2.69},
{"k":"6","t":-0.4,"v":2.35},{"k":"6","t":-0.15,"v":2.36},{"k":"6","t":-0.08,"v":2.5},{"k":"6","t":-0.02,"v":2.9},{"k":"6","t":0.05,"v":3.55},{"k":"6","t":0.13,"v":4.25},{"k":"6","t":0.2,"v":4.52},{"k":"6","t":0.27,"v":4.38},{"k":"6","t":0.35,"v":3.9},{"k":"6","t":0.45,"v":3.3},{"k":"6","t":0.56,"v":2.88},{"k":"6","t":0.7,"v":2.6},{"k":"6","t":0.9,"v":2.42},{"k":"6","t":1.2,"v":2.33},{"k":"6","t":1.6,"v":2.3},{"k":"6","t":6.0,"v":2.3},
{"k":"4","t":-0.4,"v":1.97},{"k":"4","t":-0.15,"v":1.98},{"k":"4","t":-0.08,"v":2.12},{"k":"4","t":-0.02,"v":2.52},{"k":"4","t":0.05,"v":3.2},{"k":"4","t":0.13,"v":3.9},{"k":"4","t":0.2,"v":4.17},{"k":"4","t":0.27,"v":4.05},{"k":"4","t":0.35,"v":3.6},{"k":"4","t":0.45,"v":3.0},{"k":"4","t":0.56,"v":2.58},{"k":"4","t":0.7,"v":2.3},{"k":"4","t":0.9,"v":2.1},{"k":"4","t":1.2,"v":1.98},{"k":"4","t":1.6,"v":1.93},{"k":"4","t":6.0,"v":1.92},
{"k":"x","t":-0.4,"v":1.77},{"k":"x","t":-0.15,"v":1.78},{"k":"x","t":-0.08,"v":1.92},{"k":"x","t":-0.02,"v":2.3},{"k":"x","t":0.05,"v":3.0},{"k":"x","t":0.13,"v":3.65},{"k":"x","t":0.21,"v":3.93},{"k":"x","t":0.28,"v":3.82},{"k":"x","t":0.37,"v":3.35},{"k":"x","t":0.48,"v":2.8},{"k":"x","t":0.6,"v":2.4},{"k":"x","t":0.75,"v":2.1},{"k":"x","t":0.95,"v":1.9},{"k":"x","t":1.25,"v":1.79},{"k":"x","t":1.7,"v":1.75},{"k":"x","t":6.0,"v":1.74},
{"k":"2.5","t":-0.4,"v":1.57},{"k":"2.5","t":-0.15,"v":1.58},{"k":"2.5","t":-0.08,"v":1.72},{"k":"2.5","t":-0.02,"v":2.1},{"k":"2.5","t":0.05,"v":2.8},{"k":"2.5","t":0.13,"v":3.45},{"k":"2.5","t":0.22,"v":3.72},{"k":"2.5","t":0.3,"v":3.55},{"k":"2.5","t":0.4,"v":3.0},{"k":"2.5","t":0.52,"v":2.45},{"k":"2.5","t":0.66,"v":2.08},{"k":"2.5","t":0.85,"v":1.8},{"k":"2.5","t":1.1,"v":1.65},{"k":"2.5","t":1.5,"v":1.57},{"k":"2.5","t":2.0,"v":1.55},{"k":"2.5","t":6.0,"v":1.54},
{"k":"1.6","t":-0.4,"v":1.2},{"k":"1.6","t":-0.15,"v":1.21},{"k":"1.6","t":-0.08,"v":1.35},{"k":"1.6","t":-0.02,"v":1.75},{"k":"1.6","t":0.06,"v":2.5},{"k":"1.6","t":0.15,"v":3.2},{"k":"1.6","t":0.24,"v":3.48},{"k":"1.6","t":0.32,"v":3.35},{"k":"1.6","t":0.42,"v":2.85},{"k":"1.6","t":0.55,"v":2.3},{"k":"1.6","t":0.7,"v":1.9},{"k":"1.6","t":0.9,"v":1.6},{"k":"1.6","t":1.2,"v":1.4},{"k":"1.6","t":1.6,"v":1.28},{"k":"1.6","t":2.2,"v":1.21},{"k":"1.6","t":3.0,"v":1.19},{"k":"1.6","t":6.0,"v":1.18},
{"k":"1","t":-0.4,"v":0.78},{"k":"1","t":-0.15,"v":0.79},{"k":"1","t":-0.08,"v":0.88},{"k":"1","t":-0.02,"v":1.1},{"k":"1","t":0.06,"v":1.6},{"k":"1","t":0.15,"v":2.2},{"k":"1","t":0.24,"v":2.48},{"k":"1","t":0.31,"v":2.51},{"k":"1","t":0.4,"v":2.38},{"k":"1","t":0.52,"v":2.12},{"k":"1","t":0.66,"v":1.8},{"k":"1","t":0.85,"v":1.48},{"k":"1","t":1.1,"v":1.2},{"k":"1","t":1.4,"v":1.02},{"k":"1","t":1.8,"v":0.9},{"k":"1","t":2.3,"v":0.83},{"k":"1","t":3.0,"v":0.79},{"k":"1","t":6.0,"v":0.78},
{"k":"0.5","t":-0.4,"v":0.39},{"k":"0.5","t":-0.15,"v":0.4},{"k":"0.5","t":-0.08,"v":0.45},{"k":"0.5","t":0.0,"v":0.6},{"k":"0.5","t":0.1,"v":0.85},{"k":"0.5","t":0.2,"v":1.02},{"k":"0.5","t":0.31,"v":1.08},{"k":"0.5","t":0.45,"v":1.04},{"k":"0.5","t":0.65,"v":0.96},{"k":"0.5","t":0.86,"v":0.88},{"k":"0.5","t":1.1,"v":0.78},{"k":"0.5","t":1.42,"v":0.65},{"k":"0.5","t":1.8,"v":0.56},{"k":"0.5","t":2.37,"v":0.48},{"k":"0.5","t":3.0,"v":0.44},{"k":"0.5","t":4.0,"v":0.41},{"k":"0.5","t":5.0,"v":0.4},{"k":"0.5","t":6.0,"v":0.39},
{"k":"0.1","t":0.22,"v":0.4},{"k":"0.1","t":0.5,"v":0.38},{"k":"0.1","t":0.86,"v":0.34},{"k":"0.1","t":1.15,"v":0.28},{"k":"0.1","t":1.42,"v":0.22},{"k":"0.1","t":1.8,"v":0.17},{"k":"0.1","t":2.37,"v":0.13},{"k":"0.1","t":2.8,"v":0.09},{"k":"0.1","t":3.3,"v":0.06},{"k":"0.1","t":3.8,"v":0.04},{"k":"0.1","t":4.5,"v":0.02},{"k":"0.1","t":5.2,"v":0.01},{"k":"0.1","t":6.0,"v":0.0}
]
},
"resolve":{"axis":{"x":"independent","y":"independent"}},
"layer":[
{
 "data":{"name":"obs"},
 "mark":{"type":"line","interpolate":"monotone","strokeDash":[0,9],"strokeCap":"round"},
 "encoding":{
  "x":{"field":"t","type":"quantitative","scale":{"domain":[-0.4,6],"nice":false,"zero":false},
   "axis":{"orient":"bottom","values":[-0.2,0,0.2,0.4,0.6,0.8,1,1.2,1.4,1.6,1.8,2,2.2,2.4,2.6,2.8,3,3.2,3.4,3.6,3.8,4,4.2,4.4,4.6,4.8,5,5.2,5.4,5.6,5.8,6],
    "tickSize":{"condition":{"test":"abs(datum.value-round(datum.value))<0.01","value":-16},"value":-9},
    "labelExpr":"abs(datum.value-round(datum.value))<0.01 ? format(datum.value,'d') : ''",
    "labelPadding":20,"labelFlush":false,"labelOverlap":false,"title":"Δt₂₃ (ps)","titlePadding":44}},
  "y":{"field":"v","type":"quantitative","scale":{"domain":[-0.5,6],"nice":false,"zero":false},
   "axis":{"orient":"left","values":[0,0.5,1,1.5,2,2.5,3,3.5,4,4.5,5,5.5,6],
    "tickSize":{"condition":{"test":"abs(datum.value/2-round(datum.value/2))<0.01","value":-16},"value":-9},
    "labelExpr":"abs(datum.value/2-round(datum.value/2))<0.01 ? format(datum.value,'d') : ''",
    "labelPadding":29,"labelFlush":false,"labelOverlap":false,"title":"ΔR/R (10⁻³)","titlePadding":56}},
  "color":{"field":"k","type":"nominal",
   "scale":{"domain":["200","30","10","8","6","4","2.5","1.6","1","0.5","0.1","x"],
    "range":["#111111","#22e64a","#14e1ff","#8c8c22","#1c1ca6","#9b2a2a","#1d8b8b","#ff9a3c","#ff2f8e","#8ef1ff","#ff3b1c","#7cc47c"]},
   "legend":{"orient":"none","legendX":1170,"legendY":-80,"values":["200","30","10","8","6","4","2.5","1.6","1","0.5","0.1"],
    "title":"Δt₁₂ (ps):","titleLimit":2000,"labelLimit":2000,"symbolType":"M-2,0 L2,0","symbolSize":4489,"symbolStrokeWidth":5,"symbolDash":[1,0],"symbolOpacity":1,"symbolOffset":31,"symbolFillColor":"transparent",
    "labelFont":"Liberation Sans","labelFontSize":60,"labelColor":"#222","labelOffset":41,
    "titleFont":"Liberation Sans","titleFontSize":58,"titleFontWeight":"normal","titleColor":"#222","titlePadding":97,"rowPadding":0,"padding":0}},
  "opacity":{"field":"k","type":"nominal","scale":{"domain":["200","30","10","8","6","4","2.5","1.6","1","0.5","0.1","x"],"range":[1,1,1,1,1,1,0.55,0.35,1,1,1,0.7]},"legend":null},
  "strokeWidth":{"field":"k","type":"nominal","scale":{"domain":["200","30","10","8","6","4","2.5","1.6","1","0.5","0.1","x"],"range":[7,7,7,7,7,7,5,3.5,8,6,6,4]},"legend":null}
 }
},
{
 "data":{"name":"fit"},
 "mark":{"type":"line","interpolate":"monotone","color":"#777777","strokeWidth":2,"opacity":0.85},
 "encoding":{
  "x":{"field":"t","type":"quantitative","scale":{"domain":[-0.4,6],"nice":false,"zero":false},
   "axis":{"orient":"top","values":[-0.2,0,0.2,0.4,0.6,0.8,1,1.2,1.4,1.6,1.8,2,2.2,2.4,2.6,2.8,3,3.2,3.4,3.6,3.8,4,4.2,4.4,4.6,4.8,5,5.2,5.4,5.6,5.8,6],
    "tickSize":{"condition":{"test":"abs(datum.value-round(datum.value))<0.01","value":-16},"value":-9},
    "labels":false,"title":null}},
  "y":{"field":"v","type":"quantitative","scale":{"domain":[-0.5,6],"nice":false,"zero":false},
   "axis":{"orient":"right","values":[0,0.5,1,1.5,2,2.5,3,3.5,4,4.5,5,5.5,6],
    "tickSize":{"condition":{"test":"abs(datum.value/2-round(datum.value/2))<0.01","value":-16},"value":-9},
    "labels":false,"title":null}},
  "detail":{"field":"k","type":"nominal"}
 }
},
{
 "data":{"values":[{}]},
 "mark":{"type":"rule","color":"#111111","strokeWidth":2.5},
 "encoding":{"y":{"datum":0,"type":"quantitative","scale":{"domain":[-0.5,6],"nice":false,"zero":false},"axis":null}}
},
{
 "data":{"values":[{}]},
 "mark":{"type":"text","text":"QP peak","font":"Lato","fontSize":74,"align":"center","baseline":"alphabetic","color":"#000000"},
 "encoding":{"x":{"datum":0.137,"type":"quantitative","scale":{"domain":[-0.4,6],"nice":false,"zero":false},"axis":null},
  "y":{"datum":6.83,"type":"quantitative","scale":{"domain":[-0.5,6],"nice":false,"zero":false},"axis":null}}
},
{
 "data":{"values":[{}]},
 "mark":{"type":"text","text":"Collective mode","font":"Lato","fontSize":80,"align":"center","baseline":"alphabetic","color":"#000000"},
 "encoding":{"x":{"datum":3.07,"type":"quantitative","scale":{"domain":[-0.4,6],"nice":false,"zero":false},"axis":null},
  "y":{"datum":5.1,"type":"quantitative","scale":{"domain":[-0.5,6],"nice":false,"zero":false},"axis":null}}
},
{
 "data":{"values":[{}]},
 "mark":{"type":"text","text":"Raw data TbTe₃","font":"Lato","fontSize":54,"align":"left","baseline":"alphabetic","color":"#000000"},
 "encoding":{"x":{"datum":3.72,"type":"quantitative","scale":{"domain":[-0.4,6],"nice":false,"zero":false},"axis":null},
  "y":{"datum":6.65,"type":"quantitative","scale":{"domain":[-0.5,6],"nice":false,"zero":false},"axis":null}}
},
{
 "data":{"values":[{}]},
 "mark":{"type":"text","text":["Delay time after","the D pulse"],"font":"Lato","fontSize":70,"lineHeight":86,"align":"center","baseline":"alphabetic","color":"#000000"},
 "encoding":{"x":{"datum":9.65,"type":"quantitative","scale":{"domain":[-0.4,6],"nice":false,"zero":false},"axis":null},
  "y":{"datum":3.17,"type":"quantitative","scale":{"domain":[-0.5,6],"nice":false,"zero":false},"axis":null}}
},
{
 "data":{"values":[{}]},
 "mark":{"type":"rule","color":"#e02000","strokeWidth":26,"strokeCap":"butt"},
 "encoding":{"x":{"datum":8.106,"type":"quantitative","scale":{"domain":[-0.4,6],"nice":false,"zero":false},"axis":null},
  "y":{"datum":1.18,"type":"quantitative","scale":{"domain":[-0.5,6],"nice":false,"zero":false},"axis":null},
  "y2":{"datum":4.3}}
},
{
 "data":{"values":[{}]},
 "mark":{"type":"point","shape":"M0,-0.98 L1,0.98 L0.26,0.66 L-0.26,0.66 L-1,0.98 Z","filled":true,"color":"#e02000","size":10201,"opacity":1,"strokeWidth":0},
 "encoding":{"x":{"datum":8.106,"type":"quantitative","scale":{"domain":[-0.4,6],"nice":false,"zero":false},"axis":null},
  "y":{"datum":4.58,"type":"quantitative","scale":{"domain":[-0.5,6],"nice":false,"zero":false},"axis":null}}
},
{
 "data":{"values":[{}]},
 "mark":{"type":"rule","color":"#000000","strokeWidth":5},
 "encoding":{"x":{"datum":0.171,"type":"quantitative","scale":{"domain":[-0.4,6],"nice":false,"zero":false},"axis":null},
  "y":{"datum":6.61,"type":"quantitative","scale":{"domain":[-0.5,6],"nice":false,"zero":false},"axis":null},
  "y2":{"datum":6.3}}
},
{
 "data":{"values":[{}]},
 "mark":{"type":"point","shape":"M-1,-0.94 L1,-0.94 L0,0.94 Z","filled":true,"color":"#000000","size":1225,"opacity":1,"strokeWidth":0},
 "encoding":{"x":{"datum":0.171,"type":"quantitative","scale":{"domain":[-0.4,6],"nice":false,"zero":false},"axis":null},
  "y":{"datum":6.22,"type":"quantitative","scale":{"domain":[-0.5,6],"nice":false,"zero":false},"axis":null}}
},
{
 "data":{"values":[{}]},
 "mark":{"type":"rule","color":"#000000","strokeWidth":5},
 "encoding":{"x":{"datum":1.78,"type":"quantitative","scale":{"domain":[-0.4,6],"nice":false,"zero":false},"axis":null},
  "y":{"datum":4.84,"type":"quantitative","scale":{"domain":[-0.5,6],"nice":false,"zero":false},"axis":null},
  "y2":{"datum":4.53}}
},
{
 "data":{"values":[{}]},
 "mark":{"type":"point","shape":"M-1,-0.94 L1,-0.94 L0,0.94 Z","filled":true,"color":"#000000","size":1225,"opacity":1,"strokeWidth":0},
 "encoding":{"x":{"datum":1.78,"type":"quantitative","scale":{"domain":[-0.4,6],"nice":false,"zero":false},"axis":null},
  "y":{"datum":4.45,"type":"quantitative","scale":{"domain":[-0.5,6],"nice":false,"zero":false},"axis":null}}
}
]
}
